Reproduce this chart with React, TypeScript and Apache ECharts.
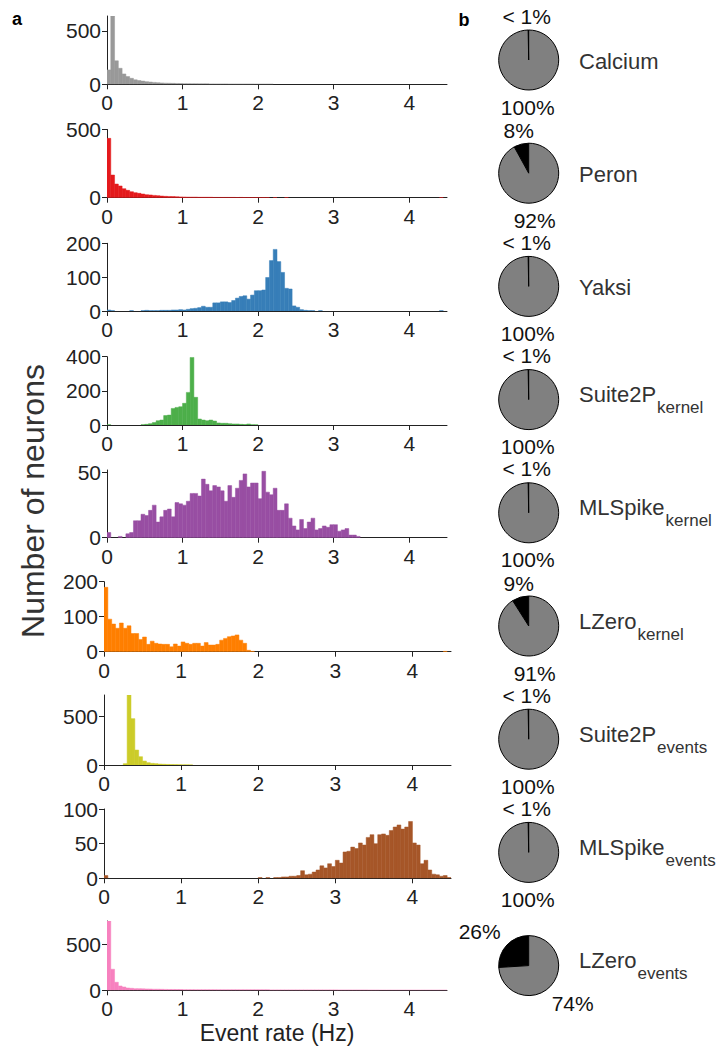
import React, { useEffect, useRef } from "react";
import * as echarts from "echarts";

// ---------- data ----------
const BIN_WIDTH = 0.05;
const X_TICKS = [0, 1, 2, 3, 4];

const METHODS = ["Calcium", "Peron", "Yaksi", "Suite2P", "MLSpike", "LZero", "Suite2P", "MLSpike", "LZero"];
const METHOD_SUBS = ["", "", "", "kernel", "kernel", "kernel", "events", "events", "events"];

const CALCIUM = [135, 900, 220, 150, 97, 72, 56, 42, 35, 30, 25, 21, 18, 15, 13, 11, 10, 9, 8, 7,
  6, 6, 5, 5, 4, 4, 4, 3, 3, 3, 3, 3, 2, 2, 2, 2, 2, 2, 2, 1,
  1, 1, 1, 1, 0, 0, 0, 0, 0, 0, 0, 0, 0, 0, 0, 0, 0, 0, 0, 0,
  0, 0, 0, 0, 0, 0, 0, 0, 0, 0, 0, 0, 0, 0, 0, 0, 0, 0, 0, 0,
  0, 0, 0, 0, 0, 0, 0, 0, 0, 0];
const PERON = [435, 166, 100, 86, 66, 54, 44, 37, 32, 27, 22, 20, 17, 15, 12, 10, 9, 8, 7, 6,
  5, 4, 4, 4, 3, 3, 3, 3, 2, 2, 2, 2, 2, 2, 1, 2, 1, 1, 1, 1,
  1, 1, 1, 0, 1, 0, 0, 1, 0, 0, 0, 0, 0, 0, 0, 0, 0, 0, 0, 0,
  0, 0, 0, 0, 0, 0, 0, 0, 0, 0, 0, 0, 0, 0, 0, 0, 0, 0, 0, 0,
  0, 0, 0, 0, 0, 0, 0, 0, 1, 0];
const YAKSI = [3, 1, 0, 0, 0, 0, 1, 0, 0, 1, 2, 1, 1, 1, 2, 2, 2, 3, 3, 4,
  3, 5, 7, 8, 10, 14, 11, 11, 24, 24, 27, 27, 25, 31, 38, 43, 45, 35, 47, 60,
  60, 62, 99, 149, 182, 146, 114, 67, 65, 15, 11, 4, 2, 1, 1, 0, 1, 0, 0, 0,
  0, 0, 0, 0, 0, 0, 0, 0, 0, 0, 0, 0, 0, 0, 0, 0, 0, 0, 0, 0,
  0, 0, 0, 0, 0, 0, 0, 0, 1, 0];
const SUITE2P_KERNEL = [2, 0, 0, 0, 0, 0, 0, 0, 0, 2, 4, 8, 14, 25, 29, 55, 58, 97, 103, 107,
  127, 191, 396, 162, 35, 29, 25, 29, 23, 12, 10, 10, 8, 6, 6, 4, 3, 6, 2, 1,
  0, 0, 0, 0, 0, 0, 0, 0, 0, 0, 0, 0, 0, 0, 0, 0, 0, 0, 0, 0,
  0, 0, 0, 0, 0, 0, 0, 0, 0, 0, 0, 0, 0, 0, 0, 0, 0, 0, 0, 0,
  0, 0, 0, 0, 0, 0, 0, 0, 0, 0];
const MLSPIKE_KERNEL = [4, 0, 0, 1, 0, 3, 4, 13, 13, 18, 17, 21, 25, 12, 16, 21, 22, 16, 27, 26,
  25, 28, 34, 34, 32, 45, 41, 36, 40, 39, 36, 28, 40, 31, 38, 44, 49, 39, 42, 42,
  30, 51, 35, 33, 38, 21, 21, 26, 15, 9, 6, 14, 7, 12, 15, 6, 7, 9, 8, 10,
  10, 5, 6, 7, 2, 2, 1, 0, 0, 0, 0, 0, 0, 0, 0, 0, 0, 0, 0, 0,
  0, 0, 0, 0, 0, 0, 0, 0, 0, 0];
const LZERO_KERNEL = [184, 93, 79, 67, 82, 67, 74, 52, 52, 35, 42, 21, 30, 24, 22, 21, 21, 14, 22, 16,
  28, 24, 21, 24, 24, 16, 26, 19, 19, 21, 33, 38, 43, 45, 48, 33, 24, 4, 1, 0,
  0, 0, 0, 0, 0, 0, 0, 0, 0, 0, 0, 0, 0, 0, 0, 0, 0, 0, 0, 0,
  0, 0, 0, 0, 0, 0, 0, 0, 0, 0, 0, 0, 0, 0, 0, 0, 0, 0, 0, 0,
  0, 0, 0, 0, 0, 0, 0, 0, 1, 0];
const SUITE2P_EVENTS = [0, 0, 0, 0, 0, 14, 780, 480, 155, 86, 41, 24, 17, 14, 10, 8, 6, 5, 4, 3,
  2, 2, 1, 0, 0, 0, 0, 0, 0, 0, 0, 0, 0, 0, 0, 0, 0, 0, 0, 0,
  0, 0, 0, 0, 0, 0, 0, 0, 0, 0, 0, 0, 0, 0, 0, 0, 0, 0, 0, 0,
  0, 0, 0, 0, 0, 0, 0, 0, 0, 0, 0, 0, 0, 0, 0, 0, 0, 0, 0, 0,
  0, 0, 0, 0, 0, 0, 0, 0, 0, 0];
const MLSPIKE_EVENTS = [4, 0, 0, 0, 0, 0, 0, 0, 0, 0, 0, 0, 0, 0, 0, 0, 0, 0, 0, 0,
  0, 0, 0, 0, 0, 0, 0, 0, 0, 0, 0, 0, 0, 0, 0, 0, 0, 0, 0, 0,
  1, 0, 1, 0, 1, 1, 2, 2, 3, 3, 4, 11, 5, 6, 9, 12, 18, 15, 21, 17,
  26, 22, 38, 39, 45, 43, 51, 48, 59, 63, 50, 63, 64, 62, 69, 74, 77, 71, 74, 82,
  51, 48, 21, 26, 12, 6, 5, 3, 4, 1];
const LZERO_EVENTS = [760, 228, 87, 47, 36, 25, 22, 18, 18, 16, 15, 14, 12, 12, 11, 10, 9, 9, 8, 8,
  7, 7, 7, 6, 6, 6, 6, 6, 6, 5, 5, 5, 5, 5, 5, 5, 5, 5, 5, 5,
  5, 5, 5, 4, 4, 4, 4, 4, 4, 4, 4, 4, 4, 4, 4, 4, 4, 4, 4, 4,
  4, 3, 3, 3, 3, 3, 3, 3, 3, 2, 2, 2, 1, 1, 1, 1, 1, 1, 1, 1,
  1, 1, 1, 1, 1, 1, 1, 1, 1, 1];

const HISTS = [CALCIUM, PERON, YAKSI, SUITE2P_KERNEL, MLSPIKE_KERNEL, LZERO_KERNEL, SUITE2P_EVENTS, MLSPIKE_EVENTS, LZERO_EVENTS];
const Y_MAX = [640, 500, 200, 400, 52, 200, 725, 100, 750];
const Y_TICKS = [[0, 500], [0, 500], [0, 100, 200], [0, 200, 400], [0, 50], [0, 100, 200], [0, 500], [0, 50, 100], [0, 500]];

// pie: share of neurons with zero rate (black) vs rest (gray), in %
const PIE_ZERO = [0.3, 8, 0.3, 0.3, 0.3, 9, 0.3, 0.3, 26];
const PIE_ZERO_LABELS = ["< 1%", "8%", "< 1%", "< 1%", "< 1%", "9%", "< 1%", "< 1%", "26%"];
const PIE_REST_LABELS = ["100%", "92%", "100%", "100%", "100%", "91%", "100%", "100%", "74%"];

// ---------- style / layout ----------
const COLORS = ["#999999", "#e41a1c", "#377eb8", "#4daf4a", "#984ea3", "#ff7f00", "#cccc29", "#a65628", "#f781bf"];
const FONT = "'Liberation Sans', Arial, Helvetica, sans-serif";
const TXT = "#222222";
// [left, right edge, top, bottom edge] in px
const GRIDS = [
  [107, 447, 16, 84.3],
  [107, 447, 129.5, 197.7],
  [107, 447, 243.3, 311],
  [107, 447, 356.7, 425],
  [107, 447, 470, 537.7],
  [104, 451, 581.7, 651.7],
  [104, 451, 695, 765],
  [104, 451, 809, 878.3],
  [107, 447, 921, 990.3],
];
const PIE_X = 528.7;
const PIE_Y = [60, 173.2, 286.4, 399.6, 512.8, 626, 739.2, 852.4, 965.6];

function labelOffsets(zeroLabel: string) {
  if (zeroLabel === "< 1%") return { z: [-2, -44], r: [-1, 47] };
  if (zeroLabel === "26%") return { z: [-49, -34], r: [44, 38] };
  return { z: [-10, -43], r: [6, 47] };
}

export default function App() {
  const ref = useRef<HTMLDivElement>(null);
  useEffect(() => {
    document.body.style.margin = "0";
    if (!ref.current) return;
    const chart = echarts.init(ref.current, undefined, { renderer: "svg" });

    const ctx = document.createElement("canvas").getContext("2d")!;
    ctx.font = `22px ${FONT}`;

    const grid: any[] = [];
    const xAxis: any[] = [];
    const yAxis: any[] = [];
    const series: any[] = [];
    const graphic: any[] = [];

    HISTS.forEach((bins, i) => {
      const [l, r, t, b] = GRIDS[i];
      grid.push({ left: l, top: t, width: r - l, height: b - t, show: false });
      const axisLine = { show: true, lineStyle: { color: TXT, width: 1 } };
      xAxis.push({
        type: "value", gridIndex: i, min: 0, max: 4.5,
        axisLine, splitLine: { show: false },
        axisTick: { show: true, inside: false, length: 5, lineStyle: { color: TXT }, customValues: X_TICKS },
        axisLabel: { fontSize: 21, fontFamily: FONT, color: TXT, margin: 8, customValues: X_TICKS },
      });
      yAxis.push({
        type: "value", gridIndex: i, min: 0, max: Y_MAX[i],
        axisLine, splitLine: { show: false },
        axisTick: { show: true, inside: false, length: 5, lineStyle: { color: TXT }, customValues: Y_TICKS[i] },
        axisLabel: { fontSize: 21, fontFamily: FONT, color: TXT, margin: 6, customValues: Y_TICKS[i] },
      });
      const color = COLORS[i];
      const ymax = Y_MAX[i];
      series.push({
        type: "custom", xAxisIndex: i, yAxisIndex: i, clip: true, silent: true,
        data: bins.map((v, k) => [k * BIN_WIDTH, (k + 1) * BIN_WIDTH, v]),
        encode: { x: [0, 1], y: 2 },
        renderItem: (params: any, api: any) => {
          const v = Math.min(api.value(2), ymax);
          if (v <= 0) return null;
          const a = api.coord([api.value(0), v]);
          const c = api.coord([api.value(1), 0]);
          return {
            type: "rect",
            shape: { x: a[0], y: a[1], width: c[0] - a[0], height: c[1] - a[1] },
            style: { fill: color, stroke: color, lineWidth: 0.5 },
          };
        },
      });

      // pie
      const cy = PIE_Y[i];
      series.push({
        type: "pie", center: [PIE_X, cy], radius: 30, startAngle: 90, clockwise: false,
        silent: true, label: { show: false }, labelLine: { show: false },
        itemStyle: { borderColor: "#000", borderWidth: 1 },
        data: [
          { value: PIE_ZERO[i], itemStyle: { color: "#000000" } },
          { value: 100 - PIE_ZERO[i], itemStyle: { color: "#808080" } },
        ],
      });
      const off = labelOffsets(PIE_ZERO_LABELS[i]);
      const pieText = (txt: string, dx: number, dy: number) => ({
        type: "text", x: PIE_X + dx, y: cy + dy, silent: true,
        style: { text: txt, font: `21px ${FONT}`, fill: "#111", align: "center", verticalAlign: "middle", textAlign: "center", textVerticalAlign: "middle" },
      });
      graphic.push(pieText(PIE_ZERO_LABELS[i], off.z[0], off.z[1]));
      graphic.push(pieText(PIE_REST_LABELS[i], off.r[0], off.r[1]));

      // method name
      const name = METHODS[i];
      const sub = METHOD_SUBS[i];
      const nx = 579;
      if (!sub) {
        graphic.push({
          type: "text", x: nx, y: cy + 1, silent: true,
          style: { text: name, font: `22px ${FONT}`, fill: "#333", align: "left", verticalAlign: "middle", textAlign: "left", textVerticalAlign: "middle" },
        });
      } else {
        const w = ctx.measureText(name).width;
        graphic.push({
          type: "text", x: nx, y: cy - 5, silent: true,
          style: { text: name, font: `22px ${FONT}`, fill: "#333", align: "left", verticalAlign: "middle", textAlign: "left", textVerticalAlign: "middle" },
        });
        graphic.push({
          type: "text", x: nx + w + 1, y: cy + 8, silent: true,
          style: { text: sub, font: `17px ${FONT}`, fill: "#333", align: "left", verticalAlign: "middle", textAlign: "left", textVerticalAlign: "middle" },
        });
      }
    });

    graphic.push({
      type: "text", x: 17, y: 19, silent: true,
      style: { text: "a", font: `bold 18px ${FONT}`, fill: "#000", align: "center", verticalAlign: "middle", textAlign: "center", textVerticalAlign: "middle" },
    });
    graphic.push({
      type: "text", x: 464, y: 20, silent: true,
      style: { text: "b", font: `bold 18px ${FONT}`, fill: "#000", align: "center", verticalAlign: "middle", textAlign: "center", textVerticalAlign: "middle" },
    });
    graphic.push({
      type: "text", x: 277, y: 1033, silent: true,
      style: { text: "Event rate (Hz)", font: `23px ${FONT}`, fill: TXT, align: "center", verticalAlign: "middle", textAlign: "center", textVerticalAlign: "middle" },
    });
    graphic.push({
      type: "text", x: 33, y: 501, rotation: Math.PI / 2, silent: true,
      style: { text: "Number of neurons", font: `32px ${FONT}`, fill: "#333", align: "center", verticalAlign: "middle", textAlign: "center", textVerticalAlign: "middle" },
    });

    chart.setOption({
      animation: false,
      backgroundColor: "#ffffff",
      grid, xAxis, yAxis, series, graphic,
    });
    return () => chart.dispose();
  }, []);
  return <div ref={ref} style={{ width: 728, height: 1051 }} />;
}
